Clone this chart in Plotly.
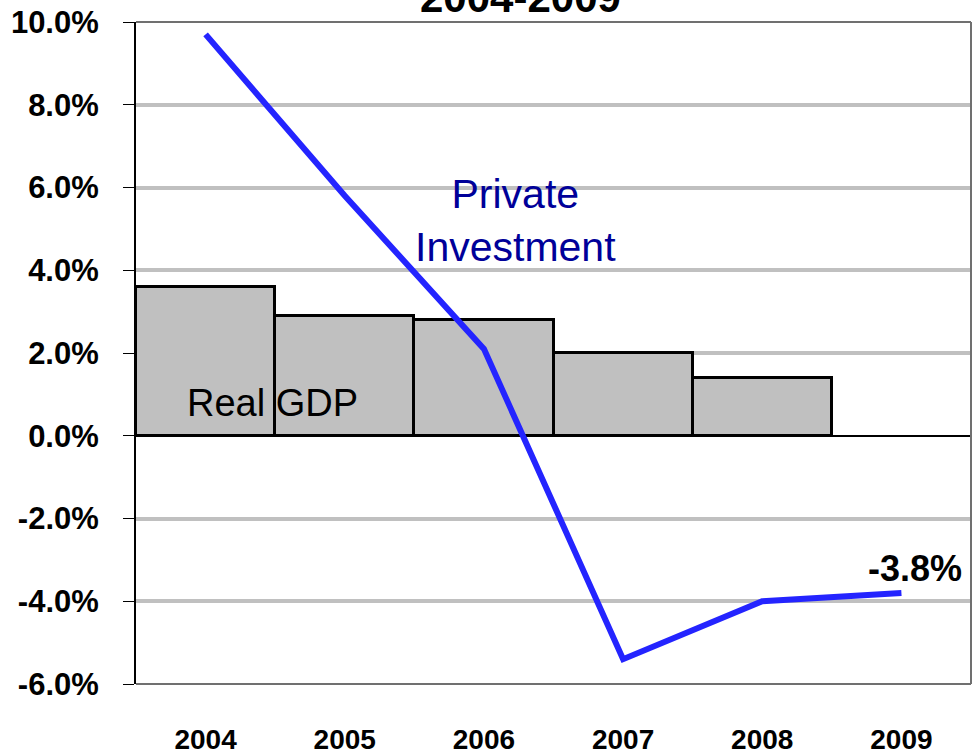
import plotly.graph_objects as go

years = ["2004", "2005", "2006", "2007", "2008", "2009"]
gdp_years = ["2004", "2005", "2006", "2007", "2008"]
real_gdp = [3.6, 2.9, 2.8, 2.0, 1.4]
private_investment = [9.7, 5.8, 2.1, -5.4, -4.0, -3.8]
y_ticks = [-6, -4, -2, 0, 2, 4, 6, 8, 10]

FONT = "Liberation Sans Narrow, Arial Narrow, Liberation Sans, Arial, sans-serif"

fig = go.Figure()
fig.add_trace(go.Bar(
    x=gdp_years, y=real_gdp, name="Real GDP",
    marker=dict(color="#c0c0c0", line=dict(color="black", width=3)),
    width=1.0,
))
fig.add_trace(go.Scatter(
    x=years, y=private_investment, name="Private Investment",
    mode="lines", line=dict(color="#2424ff", width=6),
))

fig.update_layout(
    width=979, height=754,
    margin=dict(l=136, r=8, t=22, b=70),
    plot_bgcolor="white", paper_bgcolor="white",
    showlegend=False, bargap=0,
    font=dict(family=FONT, color="black"),
    xaxis=dict(
        type="category", categoryorder="array", categoryarray=years,
        range=[-0.5, 5.5], showgrid=False, showline=False, ticks="",
        tickfont=dict(size=28, family=FONT, weight="bold"),
        ticklabelstandoff=36, automargin=False,
    ),
    yaxis=dict(
        range=[-6, 10], tickvals=y_ticks,
        ticktext=[f"{v:.1f}%" for v in y_ticks],
        showgrid=True, gridcolor="#c0c0c0", gridwidth=4,
        zeroline=True, zerolinecolor="black", zerolinewidth=2,
        showline=True, linecolor="black", linewidth=2,
        ticks="outside", ticklen=11, tickcolor="black", tickwidth=1,
        tickfont=dict(size=31, family=FONT, weight="bold"),
        ticklabelstandoff=18, automargin=False,
    ),
)

# plot border (top, right, bottom)
fig.add_shape(type="line", xref="paper", yref="paper", x0=0, x1=1, y0=1, y1=1,
              line=dict(color="#707070", width=2))
fig.add_shape(type="line", xref="paper", yref="paper", x0=1, x1=1, y0=0, y1=1,
              line=dict(color="#707070", width=2))
fig.add_shape(type="line", xref="paper", yref="paper", x0=0, x1=1, y0=0, y1=0,
              line=dict(color="#707070", width=2))

fig.add_annotation(text="2004-2009", xref="paper", yref="paper", x=0.46, y=1,
                   xanchor="center", yanchor="bottom", yshift=-1, showarrow=False,
                   font=dict(size=42, family=FONT, color="black", weight="bold"))
fig.add_annotation(text="Private<br>Investment", xref="x", yref="y", x=2.23, y=5.2,
                   showarrow=False, align="center",
                   font=dict(size=41, family=FONT, color="#000099"))
fig.add_annotation(text="Real GDP", xref="x", yref="y", x=0.48, y=0.8,
                   showarrow=False,
                   font=dict(size=38, family=FONT, color="black"))
fig.add_annotation(text="-3.8%", xref="x", yref="y", x=5.10, y=-3.22,
                   showarrow=False,
                   font=dict(size=36, family=FONT, color="black", weight="bold"))

fig.write_html("out.html",
               config={"displayModeBar": False},
               post_script="document.body.style.margin='0';document.body.style.overflow='hidden';")
